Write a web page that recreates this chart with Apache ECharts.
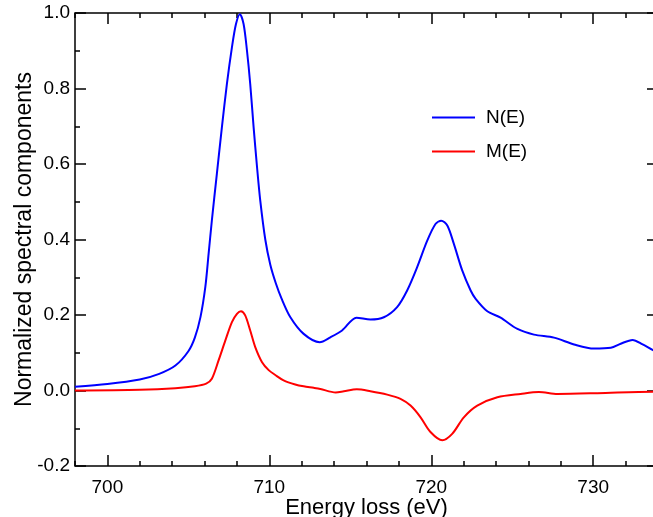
<!DOCTYPE html>
<html>
<head>
<meta charset="utf-8">
<script src="https://cdn.jsdelivr.net/npm/echarts@6/dist/echarts.min.js"></script>
<style>
  html, body { margin: 0; padding: 0; background: #fff; }
  #chart { width: 653px; height: 517px; }
</style>
</head>
<body>
<div id="chart"></div>
<script>
// N(E) spectral component
const energyN = [698.0, 700.0, 702.0, 703.2, 704.2, 705.0, 705.4, 705.75, 706.05, 706.25,
  706.45, 706.76, 707.07, 707.38, 707.69, 707.94, 708.18, 708.41, 708.62, 708.82,
  709.03, 709.24, 709.44, 709.75, 710.06, 710.4, 710.75, 711.3, 712.12, 713.11,
  713.77, 714.49, 715.38, 716.24, 717.07, 717.89, 718.51, 719.13, 719.75, 720.26,
  720.61, 720.99, 721.39, 721.91, 722.43, 722.74, 723.46, 724.28, 725.32, 726.34,
  727.58, 728.82, 730.05, 731.09, 731.7, 732.43, 733.05, 733.74, 734.0];
const valuesN = [0.010, 0.017, 0.029, 0.044, 0.066, 0.104, 0.140, 0.195, 0.275, 0.362,
  0.450, 0.574, 0.697, 0.812, 0.909, 0.971, 0.997, 0.971, 0.900, 0.812,
  0.697, 0.592, 0.503, 0.400, 0.333, 0.284, 0.244, 0.194, 0.150, 0.128,
  0.141, 0.159, 0.193, 0.188, 0.194, 0.221, 0.265, 0.327, 0.397, 0.441,
  0.450, 0.437, 0.389, 0.318, 0.265, 0.243, 0.210, 0.193, 0.163, 0.148,
  0.140, 0.122, 0.111, 0.113, 0.124, 0.134, 0.122, 0.106, 0.103];

// M(E) spectral component
const energyM = [698.0, 702.0, 704.2, 705.4, 706.1, 706.45, 706.86, 707.28, 707.69, 708.0,
  708.25, 708.51, 708.82, 709.13, 709.55, 709.96, 710.37, 710.88, 711.6,
  712.12, 712.74, 713.15, 714.1, 714.6, 715.4, 716.24, 717.28, 718.1, 718.72,
  719.34, 719.95, 720.68, 721.29, 722.01, 722.84, 724.08, 725.52, 726.65, 727.79,
  730.26, 733.74, 734.0];
const valuesM = [0.000, 0.002, 0.006, 0.011, 0.018, 0.031, 0.079, 0.132, 0.181, 0.203,
  0.210, 0.199, 0.159, 0.115, 0.075, 0.054, 0.041, 0.027, 0.016,
  0.011, 0.007, 0.004, -0.005, -0.002, 0.003, -0.002, -0.011, -0.022, -0.040,
  -0.071, -0.110, -0.132, -0.115, -0.071, -0.040, -0.018, -0.009, -0.004, -0.009,
  -0.007, -0.003, -0.003];

const xMajorTicks = [700, 710, 720, 730];
const seriesNames = ['N(E)', 'M(E)'];

const font = "'Liberation Sans', Arial, sans-serif";
const black = '#000';
const noLine = { show: false, onZero: false };

const chart = echarts.init(document.getElementById('chart'));

// the frame comes from the grid border; axes only add ticks and labels
const xBase = {
  type: 'value',
  min: 698,
  max: 734,
  splitLine: { show: false },
  axisLine: noLine,
};

const xMinor = (position) => Object.assign({}, xBase, {
  position: position,
  interval: 2,
  axisTick: { show: true, inside: true, length: 5, lineStyle: { color: black, width: 1.5 } },
  axisLabel: { show: false },
});

const xMajor = (position, extra) => Object.assign({}, xBase, {
  position: position,
  axisTick: {
    show: true, inside: true, length: 11, customValues: xMajorTicks,
    lineStyle: { color: black, width: 1.5 },
  },
  axisLabel: { show: false },
}, extra);

const yBase = (position, extra) => Object.assign({
  type: 'value',
  position: position,
  min: -0.2,
  max: 1.0,
  interval: 0.2,
  splitLine: { show: false },
  axisLine: noLine,
  axisTick: { show: true, inside: true, length: 11, lineStyle: { color: black, width: 1.5 } },
  minorTick: { show: true, splitNumber: 2, length: 5, lineStyle: { color: black, width: 1.5 } },
  axisLabel: { show: false },
}, extra);

const option = {
  animation: false,
  backgroundColor: '#fff',
  textStyle: { fontFamily: font },
  grid: {
    show: true,
    borderColor: black,
    borderWidth: 1.5,
    backgroundColor: 'transparent',
    left: 75,
    right: -5,
    top: 13,
    bottom: 51,
    containLabel: false,
    outerBoundsMode: 'none',
  },
  legend: {
    orient: 'vertical',
    left: 432,
    top: 108,
    padding: 0,
    icon: 'rect',
    itemWidth: 43,
    itemHeight: 2,
    itemGap: 15,
    data: seriesNames,
    textStyle: { fontFamily: font, fontSize: 19, color: black, padding: [0, 0, 0, 6] },
  },
  xAxis: [
    xMinor('bottom'),
    xMajor('bottom', {
      name: 'Energy loss (eV)',
      nameLocation: 'middle',
      nameGap: 31,
      nameMoveOverlap: false,
      nameTextStyle: { fontFamily: font, fontSize: 22, color: black },
      axisLabel: {
        show: true,
        customValues: xMajorTicks,
        margin: 12,
        fontFamily: font,
        fontSize: 19,
        color: black,
      },
    }),
    xMinor('top'),
    xMajor('top'),
  ],
  yAxis: [
    yBase('left'),
    yBase('left', {
      axisTick: { show: false },
      minorTick: { show: false },
      name: 'Normalized spectral components',
      nameLocation: 'middle',
      nameGap: 39,
      nameMoveOverlap: false,
      nameTextStyle: { fontFamily: font, fontSize: 23, color: black },
      axisLabel: {
        show: true,
        margin: 5,
        fontFamily: font,
        fontSize: 19,
        color: black,
        formatter: (v) => v.toFixed(1),
      },
    }),
    yBase('right'),
  ],
  series: [
    {
      name: seriesNames[0],
      type: 'line',
      xAxisIndex: 0,
      yAxisIndex: 0,
      data: energyN.map((e, i) => [e, valuesN[i]]),
      smooth: 0.3,
      symbol: 'none',
      lineStyle: { color: '#0000ff', width: 2 },
      itemStyle: { color: '#0000ff' },
    },
    {
      name: seriesNames[1],
      type: 'line',
      xAxisIndex: 0,
      yAxisIndex: 0,
      data: energyM.map((e, i) => [e, valuesM[i]]),
      smooth: 0.3,
      symbol: 'none',
      lineStyle: { color: '#ff0000', width: 2 },
      itemStyle: { color: '#ff0000' },
    },
  ],
};

chart.setOption(option);
</script>
</body>
</html>
